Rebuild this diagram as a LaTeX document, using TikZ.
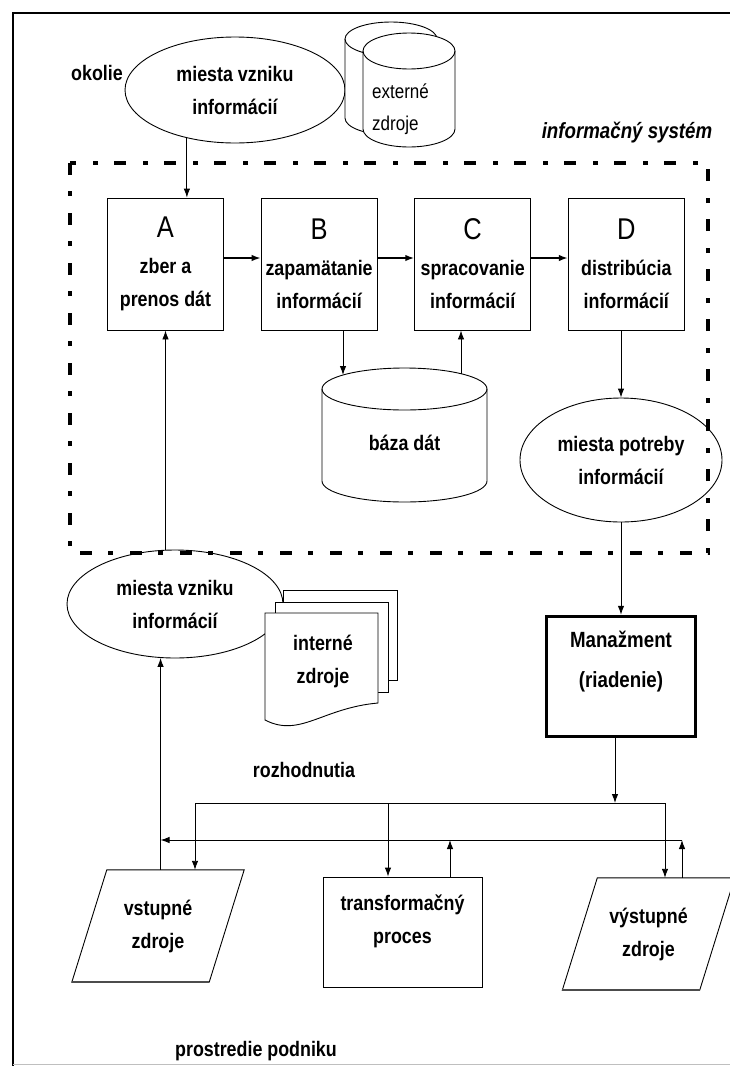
\documentclass[tikz,border=0pt]{standalone}
\usepackage{fontspec}
\setmainfont{Liberation Sans}[FakeStretch=0.85]
\usetikzlibrary{
    positioning,      % For placing nodes relative to each other
    arrows.meta,      % For modern arrow tips
    calc,             % For coordinate calculations
    shapes.geometric  % For the ellipses
}

\begin{document}
\begin{tikzpicture}[
    x=1pt, y=-1pt, % one unit is one pixel of the page, y runs downwards
    % Global style settings
    node distance=36.7pt, % Default spacing for the four boxes
    line_style/.style={
        draw=black,
        line width=0.9pt
    },
    arrow_tip/.style={
        -{Latex[length=9pt, width=6.5pt]}
    },
    text_style/.style={ % Style for all labels (bold, narrow sans)
        font=\fontsize{21}{33}\selectfont\bfseries,
        align=center,
        inner sep=0pt
    },
    box_style/.style={ % Style for the boxes A to D
        line_style,
        text_style,
        minimum width=116pt,
        minimum height=132pt
    },
    cloud_style/.style={ % Style for the ellipses
        ellipse,
        line_style,
        text_style
    },
    page_style/.style={
        line_style,
        fill=white
    },
    base_style/.style={ % heavier bottom edge of the resources
        draw=black!70,
        line width=1.8pt
    },
    frame_style/.style={ % Style for the dash-dotted frame of the system
        line width=4pt,
        dash pattern=on 12pt off 16pt on 5pt off 17pt
    }
]
    \useasboundingbox (0,0) rectangle (730,1066);
    \clip (0,0) rectangle (730,1066);
    \fill[white] (0,0) rectangle (730,1066);

    % 1. Outer frame of the page.
    \draw[line_style, line width=1.2pt] (13,1066) -- (13,13) -- (740,13);
    \draw[gray!50, line width=1pt] (13,1064) -- (730,1064);

    % 2. Surroundings: the sources of information and the external sources.
    \node[cloud_style, minimum width=220pt, minimum height=106pt] (vznikTop) at (235,90) {miesta vzniku\\informácií};
    \node[text_style, anchor=east] (okolie) at (123,73) {okolie};

    % back cylinder
    \draw[page_style] (345,39) -- (345,118) arc[start angle=180, end angle=360, x radius=46pt, y radius=17pt]
        -- (437,39) arc[start angle=0, end angle=180, x radius=46pt, y radius=17pt] -- cycle;
    \draw[line_style] (345,39) arc[start angle=180, end angle=360, x radius=46pt, y radius=17pt];
    % front cylinder
    \draw[page_style] (363,51) -- (363,129) arc[start angle=180, end angle=360, x radius=46pt, y radius=18pt]
        -- (455,51) arc[start angle=0, end angle=180, x radius=46pt, y radius=18pt] -- cycle;
    \draw[line_style] (363,51) arc[start angle=180, end angle=360, x radius=46pt, y radius=18pt];
    \node[text_style, font=\fontsize{20}{32}\selectfont, align=left, anchor=west] (extern) at (372,109) {externé\\zdroje};

    \node[text_style, font=\fontsize{22}{33}\selectfont\bfseries\itshape] (isys) at (627,133) {informačný systém};

    % 3. The four steps of the information system.
    \node[box_style] (A) at (165.5,264) {{\fontsize{30}{33}\selectfont\mdseries A}\\[3pt]zber a\\prenos dát};
    \node[box_style, right=of A] (B) {{\fontsize{30}{33}\selectfont\mdseries B}\\[3pt]zapamätanie\\informácií};
    \node[box_style, right=of B] (C) {{\fontsize{30}{33}\selectfont\mdseries C}\\[3pt]spracovanie\\informácií};
    \node[box_style, right=of C] (D) {{\fontsize{30}{33}\selectfont\mdseries D}\\[3pt]distribúcia\\informácií};

    \draw[line_style, arrow_tip, line width=1.6pt] ([yshift=6pt]A.east) -- ([yshift=6pt]B.west);
    \draw[line_style, arrow_tip, line width=1.6pt] ([yshift=6pt]B.east) -- ([yshift=6pt]C.west);
    \draw[line_style, arrow_tip, line width=1.6pt] ([yshift=6pt]C.east) -- ([yshift=6pt]D.west);
    \draw[line_style, arrow_tip] (vznikTop.225) -- (vznikTop.225 |- A.north);

    % 4. Database cylinder below B and C.
    \draw[page_style] (322,389) -- (322,481) arc[start angle=180, end angle=360, x radius=82.5pt, y radius=21pt]
        -- (487,389) arc[start angle=0, end angle=180, x radius=82.5pt, y radius=21pt] -- cycle;
    \draw[line_style] (322,389) arc[start angle=180, end angle=360, x radius=82.5pt, y radius=21pt];
    \node[text_style] (db) at (404.5,443) {báza dát};
    \coordinate (dbIn) at (343,375);
    \coordinate (dbOut) at (461,374);

    \draw[line_style, arrow_tip] (B.south -| dbIn) -- (dbIn);
    \draw[line_style, arrow_tip] (dbOut) -- (dbOut |- C.south);

    % 5. Places where the information is needed.
    \node[cloud_style, minimum width=202pt, minimum height=124pt] (potreby) at (621,460) {miesta potreby\\informácií};
    \draw[line_style, arrow_tip] (D.south -| potreby.north) -- (potreby.north);

    % 6. The frame of the information system.
    \draw[frame_style] (70,163) rectangle (708,553);

    % 7. Internal sources of information.
    \node[cloud_style, minimum width=216pt, minimum height=108pt] (vznikLow) at (175,604) {miesta vzniku\\informácií};
    \draw[page_style] (283,590) rectangle (397,680);
    \draw[page_style] (275,602) rectangle (388,692);
    \draw[page_style] (265,720) -- (265,613) -- (378,613) -- (378,703)
        .. controls (322,708) and (300,738) .. (265,720) -- cycle;
    \node[text_style] (intern) at (323,661) {interné\\zdroje};

    \draw[line_style, arrow_tip] (A.south |- vznikLow.north) -- (A.south);

    % 8. Management and its decisions.
    \node[line_style, text_style, line width=3.5pt, font=\fontsize{22}{35}\selectfont\bfseries,
          minimum width=149pt, minimum height=120pt] (mgmt) at (621,676.5) {Manažment\\[5pt](riadenie)\\\mbox{}};
    \draw[line_style, arrow_tip] (potreby.south) -- (potreby.south |- mgmt.north);

    \node[text_style] (decisions) at (304,770) {rozhodnutia};

    % 9. Resources and the transformation process.
    \node[text_style, minimum width=137pt, minimum height=112pt] (vstup) at (158,926) {vstupné\\zdroje};
    \draw[line_style] ([xshift=17.5pt]vstup.north west) -- ([xshift=17.5pt]vstup.north east)
        -- ([xshift=-17.5pt]vstup.south east) -- ([xshift=-17.5pt]vstup.south west) -- cycle;
    \draw[base_style] ([xshift=-17.5pt]vstup.south east) -- ([xshift=-17.5pt]vstup.south west);
    \node[box_style, minimum width=159pt, minimum height=110pt] (trans) at (402.5,932) {transformačný\\proces\\[-8pt]\mbox{}};
    \node[text_style, minimum width=137pt, minimum height=112pt] (vystup) at (648.5,934) {výstupné\\zdroje};
    \draw[line_style] ([xshift=17.5pt]vystup.north west) -- ([xshift=17.5pt]vystup.north east)
        -- ([xshift=-17.5pt]vystup.south east) -- ([xshift=-17.5pt]vystup.south west) -- cycle;
    \draw[base_style] ([xshift=-17.5pt]vystup.south east) -- ([xshift=-17.5pt]vystup.south west);

    % 10. The decision bus and the feedback line.
    \coordinate (busL) at (195,803);
    \coordinate (busR) at (665,803);
    \coordinate (fbR) at (682,840);

    \draw[line_style, arrow_tip] ([xshift=-6pt]mgmt.south) -- ([xshift=-6pt]mgmt.south |- busR);
    \draw[line_style, arrow_tip] (busR) -- (busL) -- (busL |- vstup.north);
    \draw[line_style, arrow_tip] (busR) -- (busR |- vystup.north);
    \draw[line_style, arrow_tip] ([xshift=-14.5pt]trans.north |- busL) -- ([xshift=-14.5pt]trans.north);

    \draw[line_style, arrow_tip] (fbR |- vystup.north) -- (fbR);
    \draw[line_style, arrow_tip] ([xshift=47.5pt]trans.north) -- ([xshift=47.5pt]trans.north |- fbR);
    \draw[line_style, arrow_tip] (fbR) -- (fbR -| vznikLow.255);
    \draw[line_style, arrow_tip] (vstup.north -| vznikLow.255) -- (vznikLow.255);

    \node[text_style] (podnik) at (256,1051) {prostredie podniku};

\end{tikzpicture}
\end{document}
